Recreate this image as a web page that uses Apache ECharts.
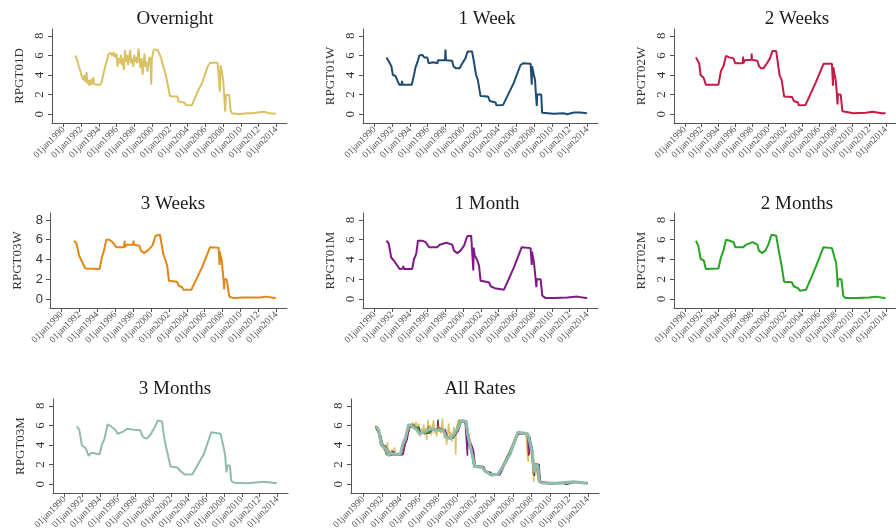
<!DOCTYPE html>
<html>
<head>
<meta charset="utf-8">
<script src="https://cdn.jsdelivr.net/npm/echarts@6/dist/echarts.min.js"></script>
<style>
  html, body { margin: 0; background: #fff; }
  #chart { width: 896px; height: 532px; }
</style>
</head>
<body>
<div id="chart"></div>
<script>
const yearTicks = [1990, 1992, 1994, 1996, 1998, 2000, 2002, 2004, 2006, 2008, 2010, 2012, 2014];
const rateTicks = [0, 2, 4, 6, 8];

const panelTitles = ["Overnight", "1 Week", "2 Weeks", "3 Weeks", "1 Month", "2 Months", "3 Months", "All Rates"];
const axisNames = ["RPGT01D", "RPGT01W", "RPGT02W", "RPGT03W", "RPGT01M", "RPGT02M", "RPGT03M", ""];
const lineColors = ["#d9c165", "#1f4a72", "#c41a43", "#e0871a", "#7d1a86", "#25a425", "#92bbb0"];

// [year, rate]
const overnight = [
  [1991.32, 6.0], [1991.47, 5.7], [1991.7, 5.0], [1991.88, 4.45], [1992.07, 3.85], [1992.22, 3.5],
  [1992.37, 4.0], [1992.44, 3.3], [1992.6, 4.3], [1992.67, 3.15], [1992.82, 3.5], [1992.9, 2.9],
  [1993.08, 3.55], [1993.2, 3.0], [1993.35, 3.75], [1993.46, 3.1], [1993.65, 3.3], [1993.76, 3.0],
  [1993.95, 3.15], [1994.14, 3.0], [1994.32, 3.3], [1994.47, 4.0], [1994.7, 4.85], [1994.89, 5.5],
  [1995.08, 6.15], [1995.34, 6.25], [1995.53, 5.95], [1995.64, 6.35], [1995.83, 5.8], [1995.98, 6.2],
  [1996.09, 4.85], [1996.2, 5.7], [1996.35, 5.2], [1996.47, 6.05], [1996.58, 5.0], [1996.69, 5.7],
  [1996.8, 4.5], [1996.92, 6.55], [1997.03, 5.35], [1997.18, 6.05], [1997.29, 5.0], [1997.41, 5.85],
  [1997.52, 6.55], [1997.63, 5.2], [1997.74, 5.7], [1997.86, 4.85], [1997.97, 6.05], [1998.08, 5.35],
  [1998.2, 5.85], [1998.31, 5.2], [1998.46, 6.7], [1998.57, 5.5], [1998.68, 4.7], [1998.8, 5.7],
  [1998.91, 4.0], [1999.02, 5.0], [1999.14, 6.2], [1999.25, 4.85], [1999.36, 5.35], [1999.47, 4.35],
  [1999.59, 5.2], [1999.7, 5.85], [1999.81, 5.2], [1999.89, 3.0], [1999.96, 5.7], [2000.08, 6.2],
  [2000.19, 6.6], [2000.41, 6.45], [2000.64, 6.55], [2000.86, 6.35], [2001.02, 5.7], [2001.24, 4.85],
  [2001.43, 4.35], [2001.62, 3.65], [2001.8, 2.8], [2001.99, 1.85], [2002.29, 1.8], [2002.86, 1.8],
  [2002.97, 1.3], [2003.61, 1.2], [2003.8, 0.95], [2004.47, 0.9], [2005.11, 2.3], [2005.68, 3.3],
  [2006.24, 4.85], [2006.54, 5.25], [2007.37, 5.25], [2007.56, 5.2], [2007.63, 2.3], [2007.71, 5.0],
  [2007.86, 4.35], [2008.0, 3.5], [2008.12, 1.95], [2008.23, 0.25], [2008.31, 1.95], [2008.68, 1.95],
  [2008.83, 0.45], [2008.98, 0.1], [2009.81, 0.0], [2010.56, 0.1], [2011.32, 0.1], [2012.07, 0.2],
  [2012.63, 0.25], [2013.2, 0.1], [2013.95, 0.05]
];
const week1 = [
  [1991.35, 5.8], [1991.6, 5.4], [1991.9, 4.9], [1992.07, 4.0], [1992.37, 3.9], [1992.6, 3.4],
  [1992.8, 3.0], [1993.05, 3.0], [1993.1, 3.4], [1993.15, 3.0], [1994.2, 3.0], [1994.45, 4.0],
  [1994.6, 4.7], [1994.9, 5.5], [1995.05, 6.0], [1995.4, 6.05], [1995.6, 5.8], [1995.95, 5.8],
  [1996.1, 5.2], [1996.6, 5.3], [1997.1, 5.2], [1997.15, 5.5], [1997.95, 5.5], [1998.0, 6.6],
  [1998.05, 5.5], [1998.75, 5.45], [1998.9, 4.9], [1999.15, 4.7], [1999.6, 4.7], [1999.9, 5.2],
  [2000.25, 5.7], [2000.5, 6.4], [2001.0, 6.4], [2001.2, 5.4], [2001.45, 4.0], [2001.65, 3.5],
  [2001.95, 1.85], [2002.8, 1.8], [2003.0, 1.35], [2003.65, 1.2], [2003.75, 0.9], [2004.5, 0.95],
  [2005.7, 3.2], [2006.45, 5.0], [2006.75, 5.2], [2007.6, 5.15], [2007.7, 5.05], [2007.73, 3.0],
  [2007.76, 4.9], [2007.97, 4.0], [2008.1, 3.5], [2008.2, 2.0], [2008.3, 0.85], [2008.35, 2.0],
  [2008.8, 2.0], [2008.9, 0.15], [2009.1, 0.05], [2010.2, 0.05], [2011.35, 0.1], [2011.7, 0.0],
  [2012.5, 0.18], [2013.2, 0.17], [2013.95, 0.1]
];
const week2 = [
  [1991.32, 5.8], [1991.7, 5.2], [1991.88, 4.0], [1992.25, 3.7], [1992.5, 3.0], [1994.0, 3.0],
  [1994.3, 4.4], [1994.6, 4.9], [1994.9, 5.95], [1995.3, 5.8], [1995.8, 5.7], [1996.0, 5.2],
  [1996.92, 5.2], [1996.95, 5.9], [1996.98, 5.2], [1997.15, 5.5], [1997.95, 5.55], [1997.97, 6.2],
  [1998.0, 5.55], [1998.65, 5.45], [1998.85, 4.9], [1999.1, 4.7], [1999.4, 4.7], [1999.8, 5.2],
  [2000.15, 5.7], [2000.45, 6.45], [2000.9, 6.45], [2001.3, 4.0], [2001.55, 3.5], [2001.85, 1.8],
  [2002.8, 1.75], [2003.0, 1.35], [2003.5, 1.2], [2003.6, 0.9], [2004.4, 0.95], [2005.6, 3.2],
  [2006.55, 5.15], [2007.55, 5.15], [2007.65, 5.0], [2007.68, 2.9], [2007.72, 4.8], [2007.8, 4.35],
  [2008.0, 3.5], [2008.15, 2.0], [2008.22, 1.0], [2008.26, 2.0], [2008.6, 2.0], [2008.8, 0.3],
  [2009.0, 0.15], [2010.1, 0.1], [2011.6, 0.15], [2012.4, 0.25], [2013.5, 0.1], [2013.95, 0.1]
];
const week3 = [
  [1991.4, 5.9], [1991.66, 5.6], [1991.96, 4.4], [1992.14, 4.05], [1992.4, 3.55], [1992.66, 3.1],
  [1994.25, 3.05], [1994.5, 4.2], [1994.73, 4.9], [1995.0, 6.0], [1995.35, 6.0], [1995.7, 5.75],
  [1996.1, 5.25], [1996.98, 5.25], [1997.03, 5.9], [1997.08, 5.25], [1997.3, 5.5], [1998.0, 5.5],
  [1998.05, 5.9], [1998.1, 5.5], [1998.7, 5.4], [1998.86, 4.9], [1999.2, 4.65], [1999.6, 4.9],
  [2000.15, 5.4], [2000.5, 6.4], [2001.0, 6.5], [2001.37, 4.55], [2001.63, 3.9], [2001.8, 3.4],
  [2002.0, 1.85], [2002.9, 1.75], [2003.1, 1.35], [2003.48, 1.2], [2003.6, 0.95], [2004.5, 0.95],
  [2005.7, 3.2], [2006.6, 5.25], [2007.55, 5.2], [2007.64, 5.0], [2007.66, 3.45], [2007.7, 4.8],
  [2007.73, 4.55], [2007.9, 3.9], [2008.1, 2.0], [2008.17, 1.0], [2008.21, 2.0], [2008.45, 2.0],
  [2008.75, 0.25], [2009.2, 0.1], [2010.3, 0.15], [2012.15, 0.15], [2012.9, 0.25], [2013.8, 0.1],
  [2013.95, 0.15]
];
const month1 = [
  [1991.35, 5.9], [1991.6, 5.6], [1991.88, 4.2], [1992.18, 3.9], [1992.56, 3.4], [1992.82, 3.05],
  [1993.2, 3.1], [1993.25, 3.35], [1993.3, 3.05], [1994.25, 3.05], [1994.45, 4.05], [1994.7, 4.55],
  [1994.9, 5.9], [1995.4, 5.9], [1995.75, 5.75], [1996.15, 5.25], [1997.07, 5.25], [1997.35, 5.5],
  [1998.1, 5.7], [1998.77, 5.5], [1998.95, 4.9], [1999.33, 4.65], [1999.7, 4.9], [2000.1, 5.4],
  [2000.45, 6.35], [2000.9, 6.4], [2001.1, 6.25], [2001.14, 2.9], [2001.18, 5.2], [2001.3, 4.4],
  [2001.6, 3.9], [2001.78, 3.4], [2001.96, 1.85], [2002.9, 1.7], [2003.1, 1.3], [2003.55, 1.1],
  [2003.66, 0.95], [2004.6, 0.95], [2005.72, 3.2], [2006.6, 5.25], [2007.6, 5.15], [2007.7, 5.0],
  [2007.73, 3.45], [2007.76, 4.8], [2007.8, 4.55], [2007.98, 3.7], [2008.17, 2.0], [2008.25, 1.2],
  [2008.3, 2.0], [2008.73, 2.0], [2008.92, 0.35], [2009.3, 0.1], [2010.24, 0.1], [2011.75, 0.15],
  [2012.87, 0.25], [2013.8, 0.1], [2013.98, 0.15]
];
const month2 = [
  [1991.32, 5.9], [1991.6, 5.4], [1991.88, 4.05], [1992.26, 3.9], [1992.5, 3.05], [1994.0, 3.1],
  [1994.3, 4.2], [1994.6, 4.9], [1994.9, 6.0], [1995.37, 5.9], [1995.83, 5.75], [1996.0, 5.25],
  [1996.95, 5.25], [1997.33, 5.5], [1998.08, 5.75], [1998.65, 5.5], [1998.83, 4.9], [1999.2, 4.65],
  [1999.6, 4.9], [1999.96, 5.5], [2000.34, 6.5], [2000.9, 6.4], [2001.28, 4.55], [2001.54, 3.4],
  [2001.84, 1.75], [2002.78, 1.7], [2002.97, 1.3], [2003.53, 1.1], [2003.72, 0.85], [2004.47, 0.95],
  [2005.6, 3.2], [2006.54, 5.25], [2007.56, 5.15], [2007.86, 4.2], [2008.05, 3.7], [2008.2, 2.0],
  [2008.23, 1.2], [2008.28, 2.0], [2008.68, 2.0], [2008.9, 0.35], [2009.17, 0.1], [2010.5, 0.1],
  [2012.0, 0.15], [2012.75, 0.25], [2013.8, 0.1], [2013.95, 0.12]
];
const month3 = [
  [1991.39, 5.9], [1991.66, 5.55], [1991.96, 3.95], [1992.22, 3.8], [1992.45, 3.55], [1992.71, 2.9],
  [1992.98, 3.2], [1993.2, 3.05], [1993.96, 3.05], [1994.22, 4.05], [1994.48, 4.55], [1994.86, 6.1],
  [1995.24, 5.9], [1995.73, 5.55], [1996.0, 5.15], [1996.67, 5.4], [1997.05, 5.65], [1997.8, 5.55],
  [1998.55, 5.5], [1998.85, 4.8], [1999.3, 4.65], [1999.68, 5.05], [2000.13, 5.75], [2000.5, 6.5],
  [2001.0, 6.4], [2001.19, 5.05], [2001.45, 3.8], [2001.68, 2.9], [2001.94, 1.8], [2002.7, 1.7],
  [2003.07, 1.35], [2003.53, 1.0], [2004.4, 1.0], [2005.7, 3.05], [2006.54, 5.3], [2007.6, 5.15],
  [2007.9, 3.9], [2008.1, 3.05], [2008.27, 1.2], [2008.35, 1.9], [2008.65, 1.9], [2008.8, 0.35],
  [2009.1, 0.15], [2010.6, 0.1], [2012.5, 0.25], [2013.95, 0.1]
];
const rateSeries = [overnight, week1, week2, week3, month1, month2, month3];

// panel boxes in px: left, top, width, height
const panels = [
  [52, 29, 235, 94], [363, 29, 235, 94], [674, 29, 235, 94],
  [50, 213, 237, 95], [363, 213, 235, 95], [674, 213, 235, 95],
  [53, 399, 235, 96], [351, 399, 248, 96]
];
const titleSpots = [[170, 5], [482, 5], [792, 5], [168, 190], [482, 190], [792, 190], [170, 375], [475, 375]];

const serif = "Liberation Serif";
const axisGray = "#555";

const chart = echarts.init(document.getElementById("chart"), null, { renderer: "canvas" });

const grid = panels.map(([left, top, width, height]) => ({ left, top, width, height }));

const xAxis = panels.map((p, i) => ({
  type: "value",
  gridIndex: i,
  min: 1988.7,
  max: 2015.2,
  axisLine: { onZero: false, lineStyle: { color: axisGray, width: 1 } },
  axisTick: { customValues: yearTicks, length: 4, lineStyle: { color: axisGray } },
  axisLabel: {
    customValues: yearTicks,
    rotate: 45,
    margin: 5,
    fontFamily: serif,
    fontSize: 9.5,
    color: "#555",
    formatter: (v) => "01jan" + v
  },
  splitLine: { show: false }
}));

const yAxis = panels.map((p, i) => {
  const horizontal = i === 3;
  return {
    type: "value",
    gridIndex: i,
    min: -0.9,
    max: 8.7,
    name: axisNames[i],
    nameLocation: "middle",
    nameRotate: 90,
    nameGap: 26,
    nameTextStyle: { fontFamily: serif, fontSize: 13, color: "#333" },
    axisLine: { show: true, onZero: false, lineStyle: { color: axisGray, width: 1 } },
    axisTick: { show: true, customValues: rateTicks, length: 4, lineStyle: { color: axisGray } },
    axisLabel: horizontal
      ? { customValues: rateTicks, margin: 7, fontFamily: "Liberation Sans", fontSize: 13, color: "#333" }
      : { customValues: rateTicks, rotate: 90, margin: 6, fontFamily: serif, fontSize: 13, color: "#333" },
    splitLine: { show: false }
  };
});

const title = panelTitles.map((text, i) => ({
  text,
  left: titleSpots[i][0],
  top: titleSpots[i][1],
  textAlign: "center",
  textStyle: { fontFamily: serif, fontSize: 19, fontWeight: "normal", color: "#1a1a1a" }
}));

const series = [];
rateSeries.forEach((data, i) => {
  series.push({
    type: "line",
    xAxisIndex: i,
    yAxisIndex: i,
    data,
    showSymbol: false,
    lineStyle: { color: lineColors[i], width: 2 },
    itemStyle: { color: lineColors[i] }
  });
});
rateSeries.forEach((data, i) => {
  series.push({
    type: "line",
    xAxisIndex: 7,
    yAxisIndex: 7,
    data,
    showSymbol: false,
    lineStyle: { color: lineColors[i], width: i === 6 ? 3 : 1.5 },
    itemStyle: { color: lineColors[i] }
  });
});

chart.setOption({
  animation: false,
  backgroundColor: "#fff",
  title,
  grid,
  xAxis,
  yAxis,
  series
});
</script>
</body>
</html>
